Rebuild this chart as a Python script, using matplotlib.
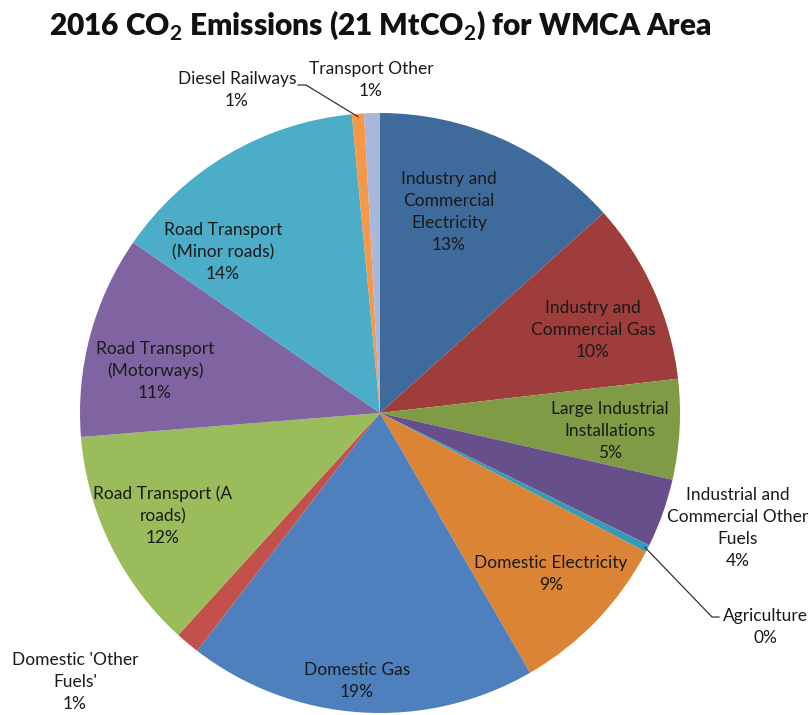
import numpy as np
import matplotlib.pyplot as plt

plt.rcParams["mathtext.fontset"] = "custom"
plt.rcParams["mathtext.rm"] = "Lato"
plt.rcParams["mathtext.bf"] = "Lato:bold"

categories = [
    "Industry and\nCommercial\nElectricity",
    "Industry and\nCommercial Gas",
    "Large Industrial\nInstallations",
    "Industrial and\nCommercial Other\nFuels",
    "Agriculture",
    "Domestic Electricity",
    "Domestic Gas",
    "Domestic 'Other\nFuels'",
    "Road Transport (A\nroads)",
    "Road Transport\n(Motorways)",
    "Road Transport\n(Minor roads)",
    "Diesel Railways",
    "Transport Other",
]
share = [13.4, 9.8, 5.4, 3.7, 0.4, 9.0, 18.8, 1.3, 12.0, 10.9, 13.9, 0.65, 0.85]
colors = ["#3F6A9C", "#9E3D3B", "#7F9B45", "#664F8A", "#3A9AB3", "#DB8436",
          "#4E80BE", "#C4504C", "#9BBC5A", "#8064A2", "#4BADC7", "#F79747", "#A8B8DA"]

# label centres in pixels of the 809x715 picture
label_px = [(449, 212), (593, 330), (610, 431), (738, 528), (765, 627), (551, 574),
            (357, 681), (75, 682), (163, 516), (155, 371), (223, 252), (237, 90), (371, 80)]

W, H = 809, 715
cx, cy, R = 380, 413, 300

def to_data(px, py):
    return (px - cx) / R, (cy - py) / R

fig = plt.figure(figsize=(W / 100, H / 100), dpi=100)
ax = fig.add_axes([0, 0, 1, 1])
wedges, _ = ax.pie(share, colors=colors, startangle=90, counterclock=False,
                   radius=1, wedgeprops=dict(linewidth=0))
ax.set_xlim(-cx / R, (W - cx) / R)
ax.set_ylim(-(H - cy) / R, cy / R)
ax.set_aspect("equal")
ax.axis("off")

font = ["Lato", "DejaVu Sans"]
total = sum(share)
for i, (name, v) in enumerate(zip(categories, share)):
    x, y = to_data(*label_px[i])
    ax.text(x, y, f"{name}\n{round(v / total * 100)}%", ha="center", va="center",
            fontsize=12.5, color="#1a1a1a", family=font, linespacing=1.45)

# leader lines
def anchor(w):
    mid = np.deg2rad((w.theta1 + w.theta2) / 2)
    return np.cos(mid), np.sin(mid)

# Agriculture
ax0, ay0 = anchor(wedges[4])
x1, y1 = to_data(712, 617)
x2, y2 = to_data(719, 617)
ax.plot([ax0 * 0.99, x1, x2], [ay0 * 0.99, y1, y2], color="#333333", lw=0.9)
# Diesel Railways
dx0, dy0 = anchor(wedges[11])
x1, y1 = to_data(306, 85)
x2, y2 = to_data(298, 85)
ax.plot([dx0 * 0.99, x1, x2], [dy0 * 0.99, y1, y2], color="#333333", lw=0.9)

fig.text(380 / W, 1 - 25 / H, r"2016 CO$_\mathbf{2}$ Emissions (21 MtCO$_\mathbf{2}$) for WMCA Area",
         ha="center", va="center", fontsize=21.5, fontweight="heavy", family=font,
         color="#111111")

fig.savefig("out.png", dpi=100)
